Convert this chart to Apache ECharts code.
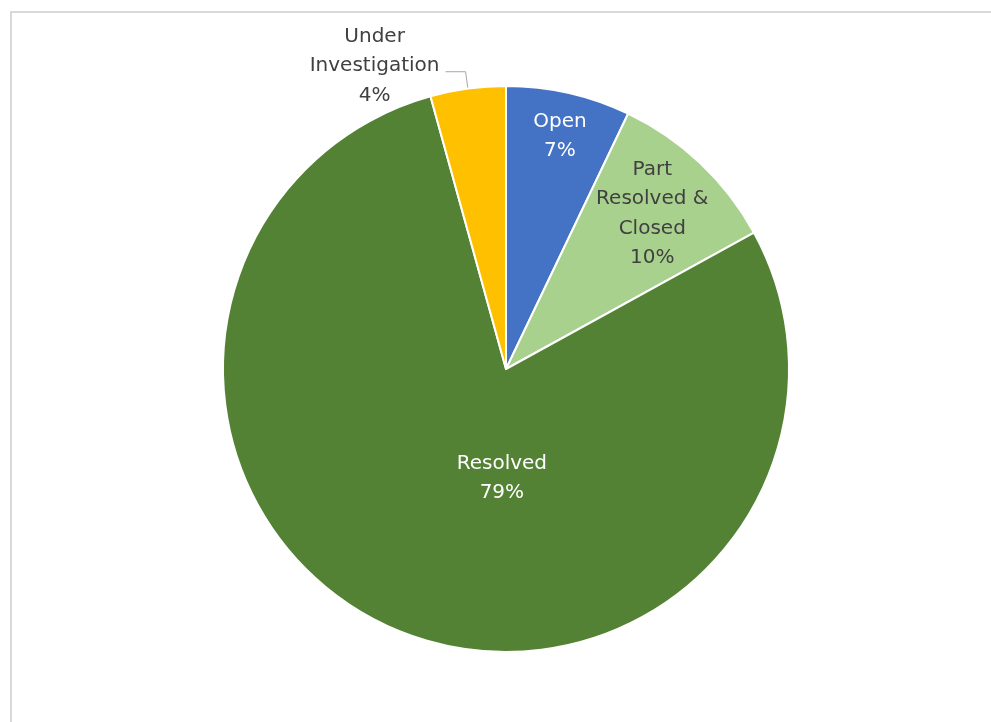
<!DOCTYPE html>
<html>
<head>
<meta charset="utf-8">
<script src="https://cdn.jsdelivr.net/npm/echarts@6/dist/echarts.min.js"></script>
<style>html,body{margin:0;padding:0;background:#fff}#c{width:991px;height:722px}</style>
</head>
<body>
<div id="c"></div>
<script>
// Data
const categories = ['Open', 'Part Resolved & Closed', 'Resolved', 'Under Investigation'];
const wrappedNames = ['Open', 'Part\nResolved &\nClosed', 'Resolved', 'Under\nInvestigation'];
const values = [7.1, 9.9, 78.7, 4.3];
const colors = ['#4472C4', '#A9D18E', '#548235', '#FFC000'];
const textColors = ['#ffffff', '#404040', '#ffffff', '#404040'];
const insideShift = [[22, -92], [47, -50], [52, -24], null];

const chart = echarts.init(document.getElementById('c'), null, {renderer: 'canvas'});
const data = categories.map((name, i) => {
  const item = {
    name: name,
    value: values[i],
    itemStyle: {color: colors[i]},
    label: {
      position: i === 3 ? 'outside' : 'inside',
      color: textColors[i],
      formatter: (p) => i === 3
        ? '{t|' + wrappedNames[i] + '\n' + Math.round(p.percent) + '%}\n{s|}'
        : wrappedNames[i] + '\n' + Math.round(p.percent) + '%',
      rich: {
        t: {width: 132, align: 'center', color: textColors[i], fontSize: 20, lineHeight: 29.5, fontFamily: 'DejaVu Sans'},
        s: {width: 132, height: 11, lineHeight: 11, fontSize: 8}
      }
    }
  };
  if (i === 3) {
    item.labelLine = {show: true, length: 17, length2: 20, lineStyle: {color: '#a6a6a6', width: 1}};
  }
  return item;
});

chart.setOption({
  animation: false,
  backgroundColor: '#ffffff',
  graphic: [{
    type: 'rect',
    shape: {x: 11, y: 12, width: 1000, height: 720},
    style: {fill: 'none', stroke: '#d9d9d9', lineWidth: 2},
    silent: true
  }],
  series: [{
    type: 'pie',
    center: [506, 369],
    radius: [0, 283],
    startAngle: 90,
    clockwise: true,
    avoidLabelOverlap: false,
    itemStyle: {borderColor: '#ffffff', borderWidth: 2},
    label: {
      fontSize: 20,
      lineHeight: 29.5,
      fontFamily: 'DejaVu Sans',
      align: 'center'
    },
    labelLayout: (params) => {
      const s = insideShift[params.dataIndex];
      return s ? {dx: s[0], dy: s[1]} : {};
    },
    data: data
  }]
});
</script>
</body>
</html>
